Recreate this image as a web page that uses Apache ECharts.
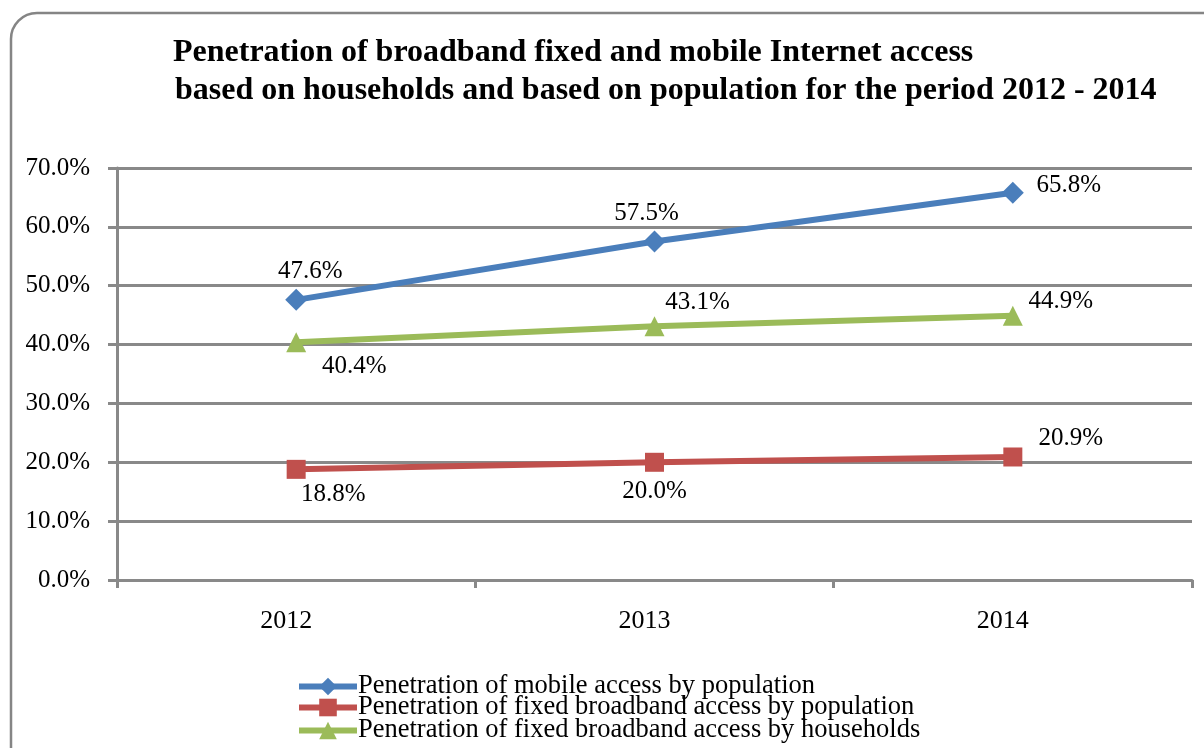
<!DOCTYPE html>
<html>
<head>
<meta charset="utf-8">
<script src="https://cdn.jsdelivr.net/npm/echarts@6/dist/echarts.min.js"></script>
<style>
  html, body { margin: 0; padding: 0; background: #fff; }
  #chart { width: 1204px; height: 748px; }
</style>
</head>
<body>
<div id="chart"></div>
<script>
// Years on the category axis
const years = ['2012', '2013', '2014'];

// Penetration values, in percent
const mobileByPopulation = [47.6, 57.5, 65.8];
const fixedByPopulation = [18.8, 20.0, 20.9];
const fixedByHouseholds = [40.4, 43.1, 44.9];

const seriesNames = [
  'Penetration of mobile access by population',
  'Penetration of fixed broadband access by population',
  'Penetration of fixed broadband access by households'
];

const titleLines = [
  'Penetration of broadband fixed and mobile Internet access',
  'based on households and based on population for the period 2012 - 2014'
];

// Value-label offsets (px) from each point, per series
const labelOffsets = {
  mobile: [[14, -28], [-8, -28], [56, -7]],
  fixedPop: [[37, 25], [0, 29], [58, -19]],
  fixedHh: [[58, 24], [43, -24], [48, -14]]
};

const FONT = "'Liberation Serif', 'Times New Roman', serif";
const GRID_GREY = '#898989';

function withLabels(values, offsets) {
  return values.map((v, i) => ({
    value: v,
    label: { offset: offsets[i] }
  }));
}

function lineSeries(name, values, offsets, color, symbol, symbolSize) {
  return {
    name: name,
    type: 'line',
    data: withLabels(values, offsets),
    symbol: symbol,
    symbolSize: symbolSize,
    showAllSymbol: true,
    lineStyle: { color: color, width: 6 },
    itemStyle: { color: color, borderWidth: 0 },
    label: {
      show: true,
      position: 'inside',
      color: '#000',
      fontFamily: FONT,
      fontSize: 25,
      formatter: p => p.value.toFixed(1) + '%'
    },
    emphasis: { disabled: true },
    animation: false
  };
}

function legendFor(name, top) {
  return {
    data: [name],
    left: 296,
    top: top,
    orient: 'vertical',
    padding: 0,
    itemWidth: 58,
    itemHeight: 22,
    itemGap: 0,
    lineStyle: { width: 6 },
    textStyle: { fontFamily: FONT, fontSize: 26.5, color: '#000', padding: [0, 0, 0, -4] }
  };
}

const chart = echarts.init(document.getElementById('chart'), null, { renderer: 'canvas' });

chart.setOption({
  backgroundColor: '#fff',
  animation: false,
  graphic: [{
    type: 'rect',
    shape: { x: 11, y: 13, width: 1300, height: 800, r: 26 },
    style: { fill: 'none', stroke: '#858585', lineWidth: 2.5 },
    z: -10
  }],
  title: [
    {
      text: titleLines[0],
      left: 168, top: 32,
      textStyle: { fontFamily: FONT, fontSize: 32, fontWeight: 'bold', color: '#000' }
    },
    {
      text: titleLines[1],
      left: 170, top: 70,
      textStyle: { fontFamily: FONT, fontSize: 32, fontWeight: 'bold', color: '#000' }
    }
  ],
  legend: [
    legendFor(seriesNames[0], 673),
    legendFor(seriesNames[1], 694),
    legendFor(seriesNames[2], 717)
  ],
  grid: { left: 117, top: 168, right: 12, bottom: 168, containLabel: false },
  xAxis: {
    type: 'category',
    data: years,
    boundaryGap: true,
    axisLine: { lineStyle: { color: GRID_GREY, width: 3 } },
    axisTick: { show: true, length: 8, lineStyle: { color: GRID_GREY, width: 3 } },
    axisLabel: {
      color: '#000', fontFamily: FONT, fontSize: 26, margin: 28,
      padding: [0, 20, 0, 0]
    },
    splitLine: { show: false }
  },
  yAxis: {
    type: 'value',
    min: 0, max: 70, interval: 10,
    axisLine: { show: true, lineStyle: { color: GRID_GREY, width: 3 } },
    axisTick: { show: true, length: 9, lineStyle: { color: GRID_GREY, width: 3 } },
    axisLabel: {
      color: '#000', fontFamily: FONT, fontSize: 25, margin: 27,
      formatter: v => v.toFixed(1) + '%'
    },
    splitLine: { show: true, lineStyle: { color: GRID_GREY, width: 3 } }
  },
  series: [
    lineSeries(seriesNames[0], mobileByPopulation, labelOffsets.mobile, '#4a7ebb', 'diamond', 22),
    lineSeries(seriesNames[1], fixedByPopulation, labelOffsets.fixedPop, '#c0504d', 'rect', 19),
    lineSeries(seriesNames[2], fixedByHouseholds, labelOffsets.fixedHh, '#9bbb59', 'triangle', 20)
  ]
});
</script>
</body>
</html>
